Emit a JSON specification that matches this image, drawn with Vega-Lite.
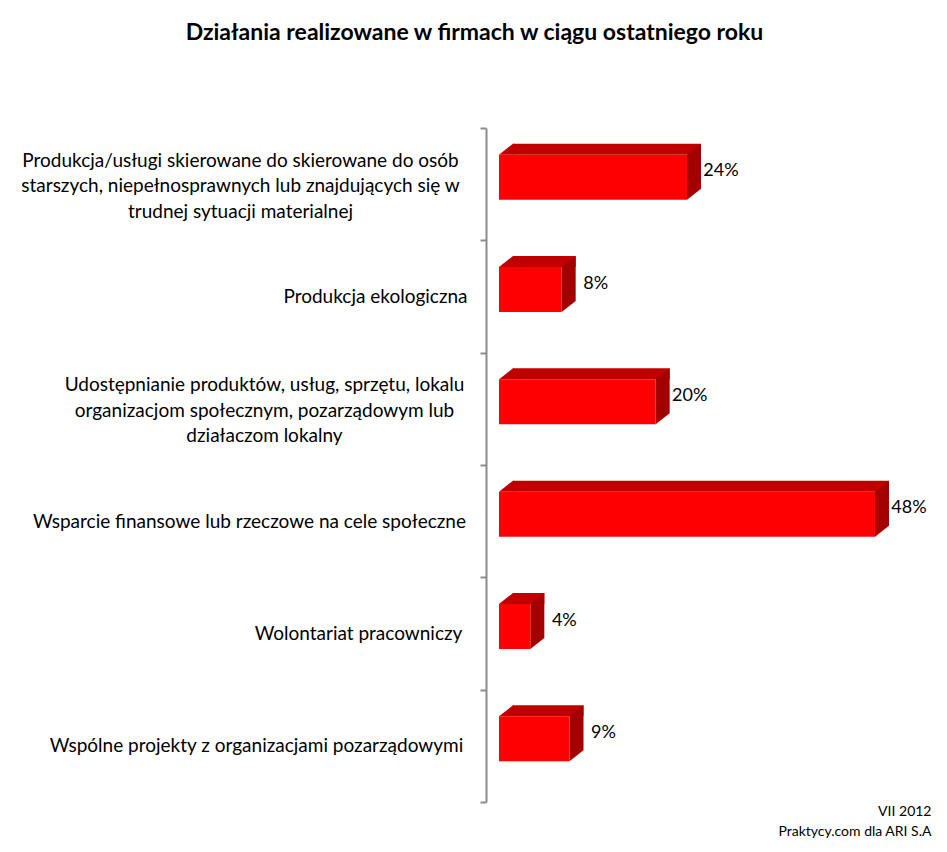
{
  "$schema": "https://vega.github.io/schema/vega-lite/v6.json",
  "width": 445,
  "height": 674,
  "autosize": "none",
  "padding": {"left": 486, "top": 128, "right": 16, "bottom": 50},
  "background": "white",
  "config": {"view": {"stroke": null}},
  "title": {
    "text": "Działania realizowane w firmach w ciągu ostatniego roku",
    "font": "Lato",
    "fontSize": 23,
    "fontWeight": "bold",
    "color": "black",
    "frame": "group",
    "anchor": "middle",
    "dx": -234,
    "offset": 74
  },
  "data": {
    "values": [
      {"label": "Produkcja/usługi skierowane do skierowane do osób|starszych, niepełnosprawnych lub znajdujących się w|trudnej sytuacji materialnej", "value": 0.24},
      {"label": "Produkcja ekologiczna", "value": 0.08},
      {"label": "Udostępnianie produktów, usług, sprzętu, lokalu|organizacjom społecznym, pozarządowym lub|działaczom lokalny", "value": 0.20},
      {"label": "Wsparcie finansowe lub rzeczowe na cele społeczne", "value": 0.48},
      {"label": "Wolontariat pracowniczy", "value": 0.04},
      {"label": "Wspólne projekty z organizacjami pozarządowymi", "value": 0.09}
    ]
  },
  "encoding": {
    "y": {
      "field": "label",
      "type": "nominal",
      "sort": null,
      "scale": {"paddingInner": 0, "paddingOuter": 0},
      "axis": {
        "title": null,
        "labelExpr": "split(datum.label, '|')",
        "labelFont": "Lato",
        "labelFontSize": 19,
        "labelColor": "black",
        "labelLineHeight": 25.5,
        "labelAlign": "center",
        "labelBaseline": "middle",
        "labelPadding": {"expr": "!datum ? 0 : indexof(datum.value+'','ekologiczna')>=0 ? 105 : indexof(datum.value+'','Wolontariat')>=0 ? 122 : indexof(datum.value+'','Udost')>=0 ? 216 : indexof(datum.value+'','Wsparcie')>=0 ? 231 : indexof(datum.value+'','projekty')>=0 ? 224 : 240"},
        "labelOffset": {"expr": "!datum ? 0 : indexof(datum.value+'','|')>=0 ? -24 : 0"},
        "labelLimit": 0,
        "labelOverlap": false,
        "tickBand": "extent",
        "domainColor": "#8c8c8c",
        "domainWidth": 2,
        "tickColor": "#8c8c8c",
        "tickWidth": 2,
        "tickSize": 6,
        "grid": false
      }
    }
  },
  "layer": [
    {
      "mark": {"type": "bar", "height": 11, "yOffset": -35, "xOffset": 14, "x2Offset": 14, "color": "#C00000"},
      "encoding": {
        "x": {
          "field": "value",
          "type": "quantitative",
          "scale": {"domain": [-0.0166, 0.5515], "nice": false, "zero": false},
          "axis": {
            "orient": "bottom",
            "domain": false,
            "ticks": false,
            "labels": false,
            "grid": false,
            "title": ["VII 2012", "Praktycy.com dla ARI S.A"],
            "titleAnchor": "end",
            "titleAlign": "right",
            "titleFont": "Lato",
            "titleFontSize": 14,
            "titleFontWeight": "normal",
            "titleColor": "black",
            "titleLineHeight": 20,
            "titlePadding": 2
          }
        },
        "x2": {"datum": 0}
      }
    },
    {
      "mark": {"type": "point", "shape": "M0,-29.5 L14,-40.5 L15,-40.5 L15,-29.5 Z", "size": 4, "filled": true, "opacity": 1, "strokeWidth": 0, "color": "#C00000"},
      "encoding": {"x": {"datum": 0, "type": "quantitative"}}
    },
    {
      "mark": {"type": "point", "shape": "M0,-29.5 L14,-40.5 L14,4.5 L0,15.5 Z", "size": 4, "filled": true, "opacity": 1, "strokeWidth": 0, "color": "#A30000"},
      "encoding": {"x": {"field": "value", "type": "quantitative"}}
    },
    {
      "mark": {"type": "bar", "height": 45, "yOffset": -7, "color": "#FF0000"},
      "encoding": {
        "x": {"field": "value", "type": "quantitative"},
        "x2": {"datum": 0}
      }
    },
    {
      "mark": {"type": "text", "align": "center", "baseline": "middle", "dx": 34, "dy": -13, "font": "Lato", "fontSize": 18, "color": "black"},
      "encoding": {
        "x": {"field": "value", "type": "quantitative"},
        "text": {"field": "value", "type": "quantitative", "format": ".0%"}
      }
    }
  ]
}
